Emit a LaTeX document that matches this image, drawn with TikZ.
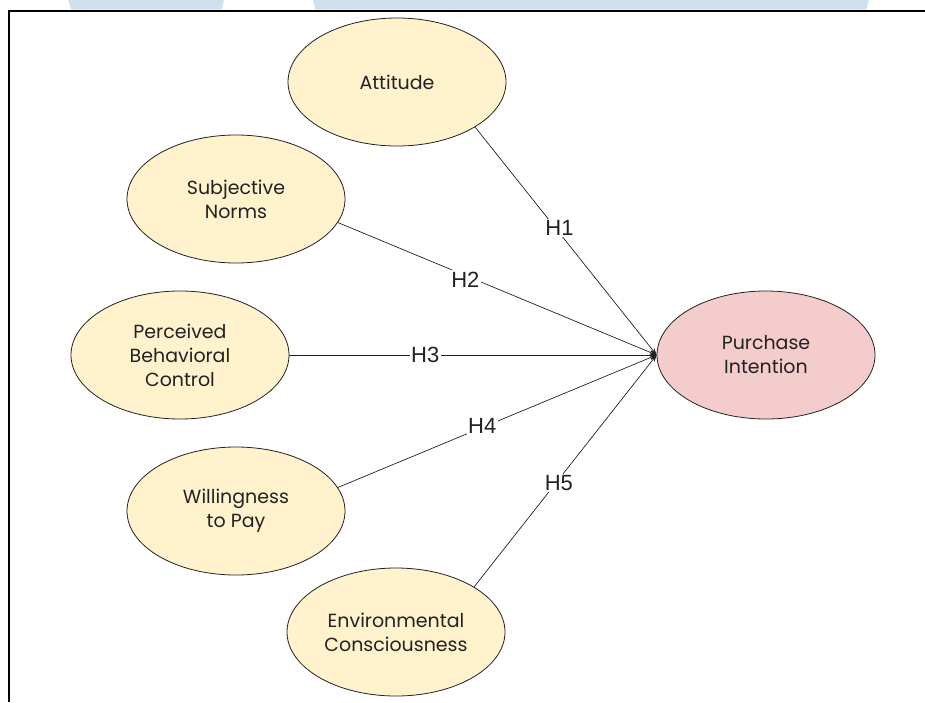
\documentclass[tikz,border=0pt]{standalone}
\usepackage{fontspec}
\setmainfont{Poppins}
\newfontfamily\labfont{Liberation Sans}
\usetikzlibrary{shapes.geometric,arrows.meta}
\definecolor{yel}{HTML}{FFF2CC}
\definecolor{pnk}{HTML}{F4CCCC}
\definecolor{wm}{HTML}{CFE0EF}
\definecolor{ink}{HTML}{222222}
\begin{document}
\begin{tikzpicture}[x=1pt,y=-1pt,
  construct/.style={ellipse, draw=ink, line width=0.8pt, fill=yel,
    minimum width=218pt, minimum height=128pt, inner sep=0pt, align=center,
    font=\fontsize{19}{24}\selectfont, text=ink},
  hyp/.style={-{Stealth[length=7pt,width=5pt]}, line width=0.7pt, draw=ink},
  hlab/.style={fill=white, inner sep=1.5pt, text=ink,
    font=\labfont\fontsize{22}{24}\selectfont}]
\useasboundingbox (0,0) rectangle (925,702);
% watermark bands and frame
\fill[wm] (68,0) -- (224,0) -- (222,9.5) -- (71,9.5) -- cycle;
\fill[wm] (313,0) -- (869,0) -- (866,9.5) -- (315,9.5) -- cycle;
\draw[line width=2pt] (9,702) -- (9,11) -- (925,11);
% nodes
\node[construct] (att) at (397,82) {Attitude};
\node[construct] (sn)  at (236,199) {Subjective\\Norms};
\node[construct] (pbc) at (180,355) {Perceived\\Behavioral\\Control};
\node[construct] (wtp) at (236,511) {Willingness\\to Pay};
\node[construct] (ec)  at (396,632) {Environmental\\Consciousness};
\node[construct, fill=pnk] (pi) at (766,355) {Purchase\\Intention};
% connectors
\draw[hyp] (att.-30.3) -- node[hlab,pos=0.443,xshift=4pt]{H1} (pi.west);
\draw[hyp] (sn.-13.7) -- node[hlab,pos=0.40,yshift=-4pt]{H2} (pi.west);
\draw[hyp] (pbc.east) -- node[hlab,pos=0.37]{H3} (pi.west);
\draw[hyp] (wtp.13.7) -- node[hlab,pos=0.453,yshift=2pt]{H4} (pi.west);
\draw[hyp] (ec.30.3) -- node[hlab,pos=0.448,xshift=3pt]{H5} (pi.west);
\end{tikzpicture}
\end{document}
